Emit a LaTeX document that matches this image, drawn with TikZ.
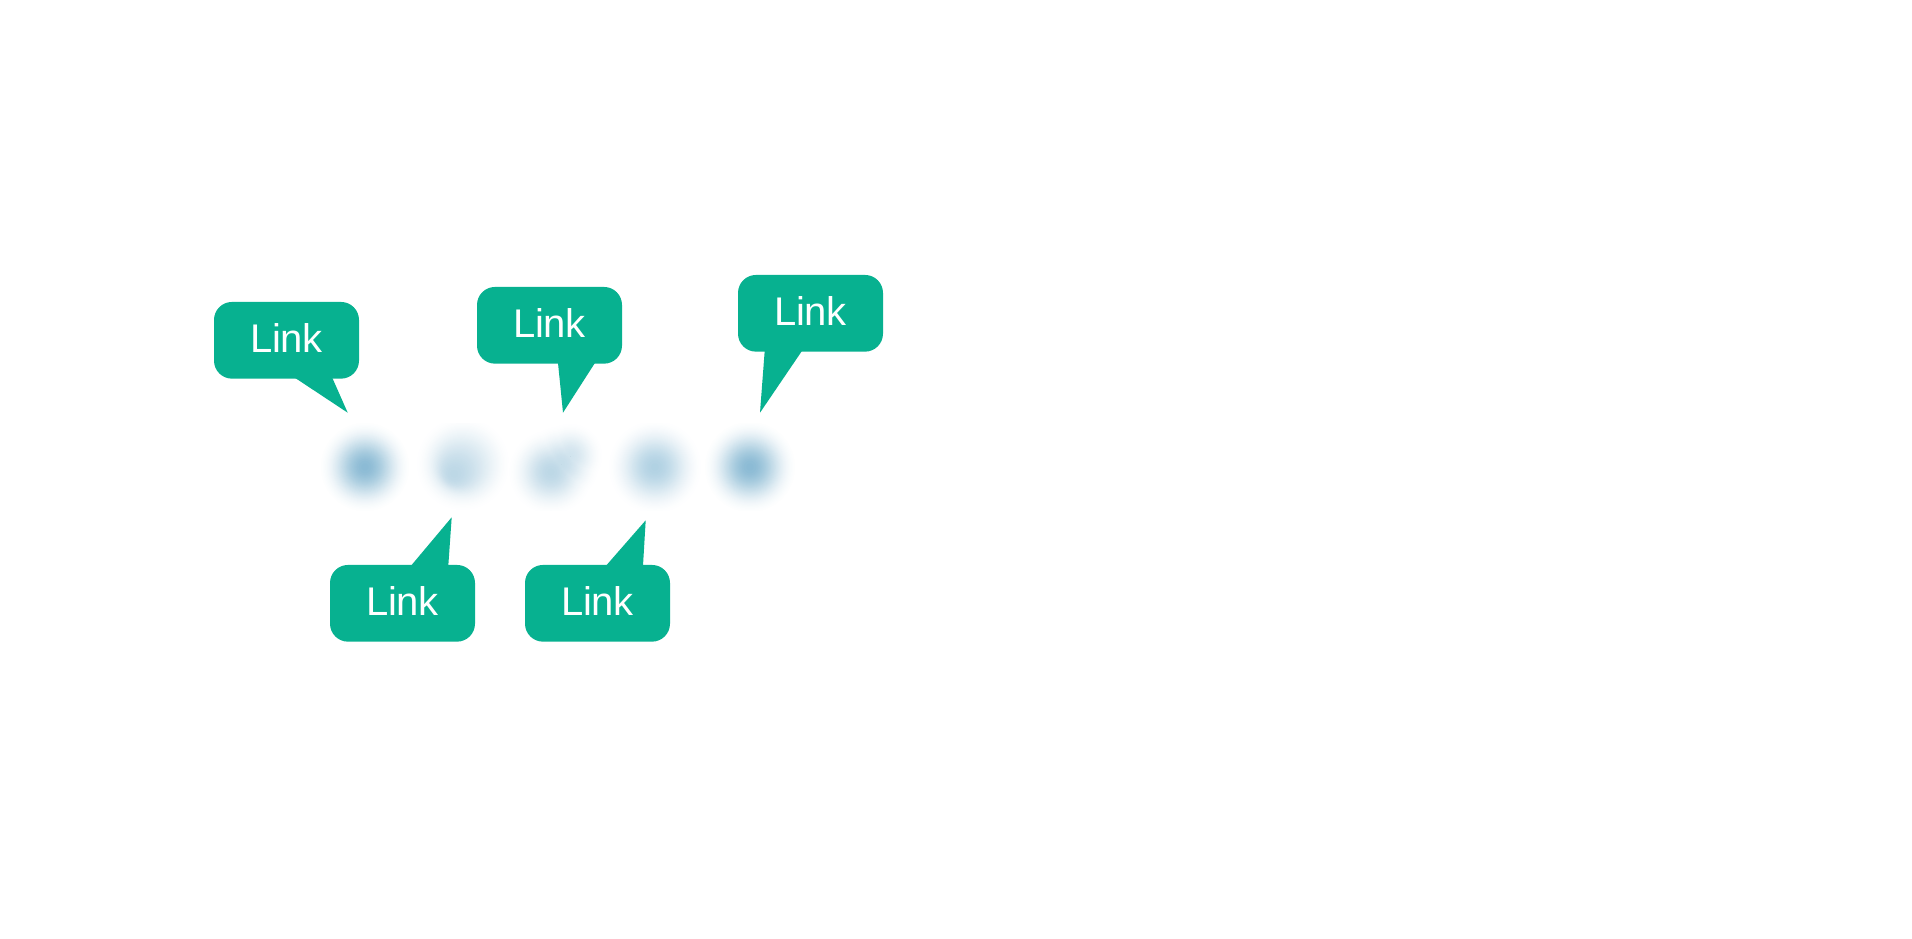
\documentclass[tikz,border=0pt]{standalone}
\usepackage{fontspec}
\setmainfont[LetterSpace=-1.5]{Liberation Sans}
\definecolor{bubblegreen}{HTML}{07B190}
\definecolor{dotdark}{HTML}{8ABAD4}
\definecolor{dotmid}{HTML}{B0D1E3}
\definecolor{dotlight}{HTML}{BCD7E6}
\tikzset{
  bubble/.style={fill=bubblegreen, text=white, rounded corners=18pt, inner sep=0pt,
    minimum width=145pt, minimum height=76.7pt, text height=28.6pt, text depth=3.8pt,
    font=\fontsize{40}{40}\selectfont},
  tail/.style={fill=bubblegreen}
}
% a round blurred mark, as opaque level sets from the rim inwards
\newcommand{\softround}[4]{%
  \foreach \i in {1,...,40}{%
    \pgfmathsetmacro{\lev}{(\i-.5)/40}%
    \pgfmathsetmacro{\rad}{#4*acos(2*\lev-1)/180}%
    \pgfmathsetmacro{\pct}{100*\lev^1.25}%
    \fill[fill={#3!\pct!white}] (#1,#2) circle (\rad);
  }}
\begin{document}
\begin{tikzpicture}[x=1pt,y=-1pt]
\useasboundingbox (0,0) rectangle (1912,939);
\fill[white] (0,0) rectangle (1912,939);
% blurred marks
\begin{scope}
\clip (300,423) rectangle (820,510);
\softround{365}{467}{dotdark}{50}
\softround{750}{467}{dotdark}{51}
\softround{655}{467}{dotmid}{52}
% second mark: level sets drift towards the darker lower left
\foreach \i in {1,...,40}{%
  \pgfmathsetmacro{\lev}{(\i-.5)/40}%
  \pgfmathsetmacro{\rad}{52*acos(2*\lev-1)/180}%
  \pgfmathsetmacro{\pct}{100*\lev^1.25}%
  \pgfmathsetmacro{\cx}{463-9*\lev*\lev}%
  \pgfmathsetmacro{\cy}{464+10*\lev*\lev}%
  \fill[fill={dotlight!\pct!white}] (\cx,\cy) circle (\rad);
}
% third mark: a lower-left body with a paler lobe to the upper right
\foreach \i in {1,...,40}{%
  \pgfmathsetmacro{\lev}{(\i-.5)/40}%
  \pgfmathsetmacro{\rad}{47*acos(2*\lev-1)/180}%
  \pgfmathsetmacro{\radb}{37*acos(min(1,2*\lev/.75-1))/180}%
  \pgfmathsetmacro{\radc}{43*acos(min(1,2*\lev/.88-1))/180}%
  \pgfmathsetmacro{\pct}{100*\lev^1.25}%
  \fill[fill={dotlight!\pct!white}] (551,472) circle (\rad) (570,456) circle (\radb) (561,464) circle (\radc);
}
\end{scope}
% callouts
\coordinate (tipa) at (347.7,412.7);
\coordinate (tipb) at (563,412.7);
\coordinate (tipc) at (760,412.7);
\coordinate (tipd) at (451.7,517.3);
\coordinate (tipe) at (645.7,520.3);
\node[bubble] (a) at (286.5,340.3) {Link\hspace{1pt}};
\node[bubble] (b) at (549.5,325.3) {Link\hspace{1pt}};
\node[bubble] (c) at (810.5,313.3) {Link\hspace{1pt}};
\node[bubble] (d) at (402.5,603.3) {Link\hspace{1pt}};
\node[bubble] (e) at (597.5,603.3) {Link\hspace{1pt}};
\fill[tail] (tipa) -- ([xshift=8.5pt,yshift=1pt]a.south) -- ([xshift=45.8pt,yshift=1pt]a.south) -- cycle;
\fill[tail] (tipb) -- ([xshift=8.5pt,yshift=1pt]b.south) -- ([xshift=45.5pt,yshift=1pt]b.south) -- cycle;
\fill[tail] (tipc) -- ([xshift=-45.8pt,yshift=1pt]c.south) -- ([xshift=-8.5pt,yshift=1pt]c.south) -- cycle;
\fill[tail] (tipd) -- ([xshift=8.5pt,yshift=-1pt]d.north) -- ([xshift=45.8pt,yshift=-1pt]d.north) -- cycle;
\fill[tail] (tipe) -- ([xshift=8.5pt,yshift=-1pt]e.north) -- ([xshift=45.5pt,yshift=-1pt]e.north) -- cycle;
\end{tikzpicture}
\end{document}
